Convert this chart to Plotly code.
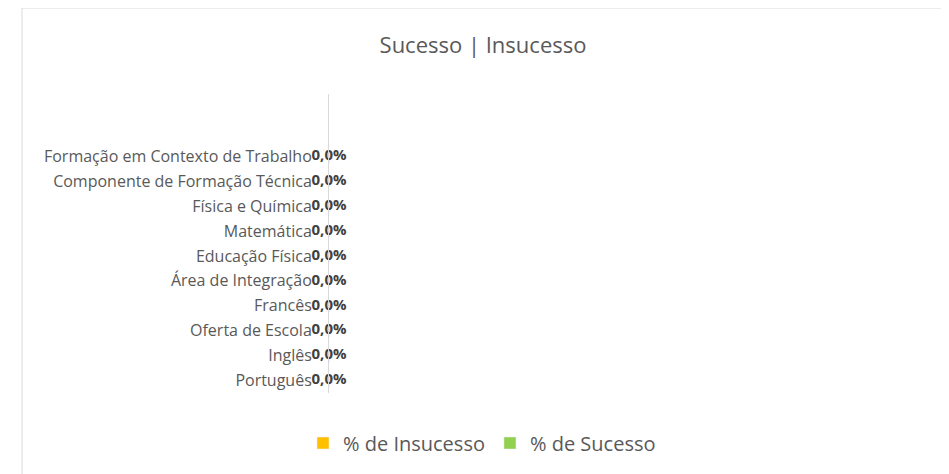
import plotly.graph_objects as go

# Dados (de baixo para cima)
categorias = [
    "Português", "Inglês", "Oferta de Escola", "Francês", "Área de Integração",
    "Educação Física", "Matemática", "Física e Química",
    "Componente de Formação Técnica", "Formação em Contexto de Trabalho",
]
pct_insucesso = [0.0] * 10
pct_sucesso = [0.0] * 10
n_slots = 12  # duas linhas vazias no topo

W, H = 949, 474
OFF = 8  # margem do <body> da página
ML, MR, MT, MB = 329 - OFF, 37, 94 - OFF, 81 + OFF
FONT = "Open Sans"
GREY = "#595959"

pos = list(range(len(categorias)))
fig = go.Figure()

fig.add_trace(go.Bar(
    y=pos, x=pct_insucesso, orientation="h", name="% de Insucesso",
    marker_color="#FFC000", width=0.5,
))
fig.add_trace(go.Bar(
    y=pos, x=pct_sucesso, orientation="h", name="% de Sucesso",
    marker_color="#92D050", width=0.5,
))

# rótulos de dados
labels = [f"{v:.1f}%".replace(".", ",") for v in pct_insucesso]
fig.add_trace(go.Scatter(
    y=pos, x=[v / 2 for v in pct_insucesso], mode="text", text=labels,
    textposition="middle center", showlegend=False, hoverinfo="skip",
    textfont=dict(family=FONT, size=15, color="#404040", weight="bold"),
    cliponaxis=False,
))

# moldura do gráfico
pw, ph = W - ML - MR, H - MT - MB
def px_x(p):
    return (p - OFF - ML) / pw
def px_y(p):
    return (H - MB - (p - OFF)) / ph

fig.add_shape(type="rect", xref="paper", yref="paper",
              x0=px_x(22), x1=px_x(945), y0=px_y(500), y1=px_y(8),
              line=dict(color="#D9D9D9", width=1), layer="below")

fig.update_layout(
    width=W, height=H,
    barmode="stack",
    plot_bgcolor="white", paper_bgcolor="white",
    margin=dict(l=ML, r=MR, t=MT, b=MB),
    title=dict(text="Sucesso | Insucesso", x=(483 - OFF) / W, xanchor="center",
               y=1 - (45 - OFF) / H, yanchor="middle",
               font=dict(family=FONT, size=22, color=GREY)),
    xaxis=dict(range=[0, 1], visible=False),
    yaxis=dict(
        range=[-0.5, n_slots - 0.5],
        tickmode="array", tickvals=pos, ticktext=categorias,
        showline=True, linecolor="#D9D9D9", linewidth=1,
        showgrid=False, zeroline=False, ticks="",
        ticklabelstandoff=13,
        tickfont=dict(family=FONT, size=16, color=GREY),
    ),
    legend=dict(orientation="h", x=px_x(482), xanchor="center",
                y=px_y(443), yanchor="middle", traceorder="normal",
                font=dict(family=FONT, size=20, color=GREY),
                itemwidth=30),
    showlegend=True,
)

fig.write_html("out.html")
